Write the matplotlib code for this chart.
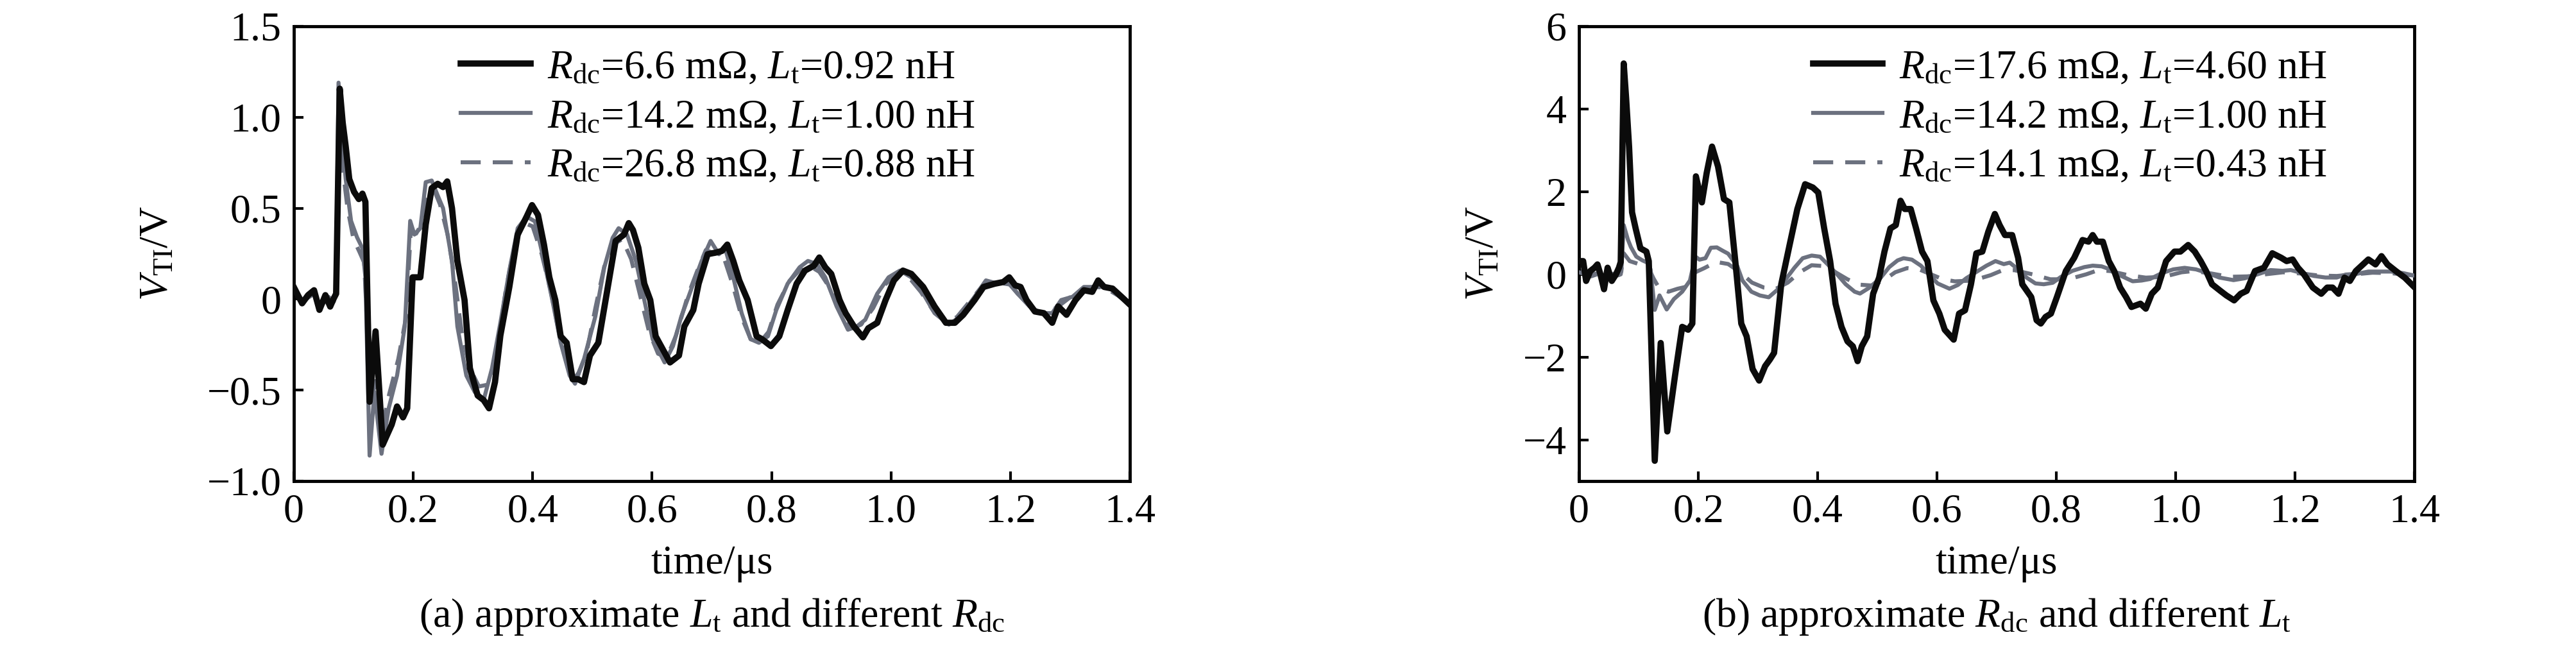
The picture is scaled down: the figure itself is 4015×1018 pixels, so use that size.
import matplotlib
matplotlib.use('Agg')
import matplotlib.pyplot as plt
from matplotlib.ticker import FuncFormatter

plt.rcParams['font.family'] = ['Liberation Serif', 'DejaVu Serif']
plt.rcParams['mathtext.fontset'] = 'custom'
plt.rcParams['mathtext.rm'] = 'Liberation Serif'
plt.rcParams['mathtext.it'] = 'Liberation Serif:italic'
plt.rcParams['font.size'] = 46

# ---- (a) approximate Lt, different Rdc ----
t_a1 = [0.000, 0.014, 0.024, 0.034, 0.043, 0.053, 0.061, 0.067, 0.071, 0.077, 0.082, 0.087,
        0.093, 0.101, 0.109, 0.115, 0.120, 0.127, 0.137, 0.149, 0.164, 0.173, 0.183, 0.190,
        0.199, 0.212, 0.221, 0.231, 0.241, 0.250, 0.257, 0.265, 0.274, 0.286, 0.295, 0.308,
        0.318, 0.327, 0.337, 0.346, 0.361, 0.375, 0.390, 0.399, 0.409, 0.419, 0.428, 0.438,
        0.447, 0.457, 0.467, 0.476, 0.486, 0.496, 0.510, 0.524, 0.539, 0.553, 0.561, 0.568,
        0.577, 0.587, 0.597, 0.606, 0.621, 0.630, 0.645, 0.654, 0.669, 0.678, 0.693, 0.707,
        0.717, 0.726, 0.736, 0.746, 0.760, 0.775, 0.784, 0.799, 0.813, 0.827, 0.842, 0.856,
        0.871, 0.880, 0.890, 0.900, 0.914, 0.924, 0.938, 0.953, 0.962, 0.977, 0.991, 1.005,
        1.020, 1.034, 1.054, 1.073, 1.092, 1.107, 1.121, 1.140, 1.155, 1.174, 1.188, 1.198,
        1.208, 1.217, 1.227, 1.241, 1.256, 1.270, 1.280, 1.294, 1.309, 1.323, 1.337, 1.347,
        1.357, 1.371, 1.386, 1.400]
v_a1 = [0.067, -0.023, 0.022, 0.049, -0.059, 0.022, -0.041, 0.004, 0.030, 1.157, 0.970, 0.840,
        0.660, 0.590, 0.550, 0.580, 0.535, -0.564, -0.177, -0.800, -0.690, -0.590, -0.650, -0.600,
        0.120, 0.120, 0.410, 0.610, 0.634, 0.616, 0.647, 0.500, 0.210, -0.005, -0.380, -0.530,
        -0.555, -0.600, -0.456, -0.200, 0.067, 0.355, 0.454, 0.517, 0.463, 0.300, 0.120, -0.005,
        -0.204, -0.240, -0.440, -0.440, -0.456, -0.310, -0.240, 0.030, 0.320, 0.355, 0.418, 0.380,
        0.283, 0.085, -0.005, -0.204, -0.294, -0.348, -0.310, -0.150, -0.060, 0.085, 0.247, 0.256,
        0.265, 0.300, 0.210, 0.103, -0.005, -0.204, -0.220, -0.258, -0.204, -0.060, 0.085, 0.157,
        0.184, 0.229, 0.175, 0.139, -0.005, -0.077, -0.150, -0.210, -0.160, -0.130, -0.005, 0.103,
        0.157, 0.139, 0.067, -0.040, -0.130, -0.130, -0.086, -0.005, 0.067, 0.085, 0.094, 0.120,
        0.076, 0.067, -0.005, -0.068, -0.077, -0.130, -0.040, -0.086, -0.005, 0.049, 0.040, 0.103,
        0.067, 0.058, 0.013, -0.030]

# Rdc=14.2 mOhm, Lt=1.00 nH (same curve in both panels)
t_ref = [0.000, 0.014, 0.034, 0.043, 0.058, 0.067, 0.071, 0.075, 0.082, 0.087, 0.096, 0.106,
         0.115, 0.120, 0.127, 0.135, 0.147, 0.159, 0.173, 0.186, 0.195, 0.202, 0.212, 0.221,
         0.231, 0.241, 0.250, 0.265, 0.274, 0.289, 0.303, 0.318, 0.332, 0.346, 0.361, 0.375,
         0.390, 0.404, 0.419, 0.433, 0.447, 0.462, 0.471, 0.486, 0.505, 0.520, 0.534, 0.544,
         0.558, 0.573, 0.587, 0.601, 0.621, 0.635, 0.649, 0.669, 0.683, 0.698, 0.712, 0.722,
         0.736, 0.750, 0.765, 0.779, 0.794, 0.808, 0.827, 0.847, 0.861, 0.876, 0.890, 0.909,
         0.928, 0.943, 0.957, 0.977, 0.996, 1.015, 1.034, 1.054, 1.073, 1.097, 1.116, 1.140,
         1.159, 1.179, 1.193, 1.212, 1.232, 1.251, 1.270, 1.285, 1.304, 1.323, 1.342, 1.361,
         1.381, 1.400]
v_ref = [0.050, -0.014, 0.030, -0.050, 0.013, -0.014, 0.067, 1.190, 0.840, 0.660, 0.430, 0.340,
         0.280, 0.120, -0.860, -0.510, -0.850, -0.600, -0.420, -0.150, 0.430, 0.355, 0.390, 0.643,
         0.652, 0.570, 0.500, 0.210, -0.150, -0.420, -0.510, -0.555, -0.380, -0.130, 0.157, 0.390,
         0.454, 0.427, 0.210, -0.005, -0.240, -0.420, -0.465, -0.330, -0.095, 0.175, 0.337, 0.390,
         0.355, 0.210, -0.005, -0.220, -0.348, -0.258, -0.095, 0.085, 0.210, 0.320, 0.247, 0.283,
         0.120, -0.077, -0.220, -0.240, -0.204, -0.060, 0.085, 0.175, 0.210, 0.193, 0.120, -0.040,
         -0.168, -0.150, -0.113, 0.030, 0.120, 0.157, 0.120, 0.030, -0.077, -0.140, -0.095, 0.013,
         0.103, 0.085, 0.103, 0.030, -0.040, -0.077, -0.077, -0.005, 0.013, 0.067, 0.067, 0.067,
         0.030, -0.030]

t_a3 = [0.000, 0.014, 0.034, 0.043, 0.058, 0.067, 0.071, 0.076, 0.082, 0.090, 0.100, 0.110,
        0.118, 0.125, 0.130, 0.137, 0.147, 0.160, 0.175, 0.188, 0.196, 0.205, 0.215, 0.225,
        0.235, 0.245, 0.258, 0.270, 0.282, 0.295, 0.310, 0.325, 0.340, 0.355, 0.370, 0.385,
        0.400, 0.415, 0.430, 0.445, 0.460, 0.475, 0.490, 0.505, 0.520, 0.535, 0.550, 0.565,
        0.580, 0.595, 0.610, 0.625, 0.640, 0.660, 0.675, 0.690, 0.705, 0.720, 0.735, 0.750,
        0.765, 0.780, 0.795, 0.810, 0.830, 0.850, 0.865, 0.880, 0.900, 0.920, 0.935, 0.950,
        0.970, 0.990, 1.010, 1.030, 1.050, 1.070, 1.090, 1.110, 1.130, 1.155, 1.180, 1.200,
        1.220, 1.240, 1.260, 1.280, 1.300, 1.320, 1.340, 1.360, 1.380, 1.400]
v_a3 = [0.040, -0.010, 0.030, -0.040, 0.010, -0.010, 0.050, 0.850, 0.720, 0.500, 0.330, 0.260,
        0.200, -0.300, -0.550, -0.450, -0.720, -0.520, -0.330, -0.100, 0.380, 0.360, 0.420, 0.600,
        0.600, 0.520, 0.350, 0.100, -0.200, -0.380, -0.480, -0.470, -0.300, 0.050, 0.300, 0.420,
        0.400, 0.250, 0.050, -0.200, -0.380, -0.420, -0.300, -0.050, 0.180, 0.300, 0.330, 0.220,
        0.020, -0.180, -0.300, -0.320, -0.200, 0.020, 0.150, 0.270, 0.250, 0.230, 0.080, -0.100,
        -0.220, -0.240, -0.180, -0.030, 0.100, 0.170, 0.180, 0.150, 0.050, -0.100, -0.160, -0.140,
        -0.050, 0.080, 0.140, 0.120, 0.040, -0.060, -0.120, -0.100, -0.020, 0.080, 0.090, 0.080,
        0.000, -0.060, -0.080, -0.040, 0.010, 0.050, 0.070, 0.060, 0.020, -0.030]

# ---- (b) approximate Rdc, different Lt ----
t_b1 = [0.000, 0.007, 0.012, 0.019, 0.026, 0.031, 0.036, 0.042, 0.048, 0.055, 0.062, 0.067,
        0.070, 0.075, 0.079, 0.084, 0.089, 0.095, 0.103, 0.113, 0.117, 0.127, 0.137, 0.148,
        0.161, 0.173, 0.183, 0.190, 0.196, 0.206, 0.214, 0.223, 0.233, 0.243, 0.252, 0.262,
        0.272, 0.281, 0.291, 0.302, 0.312, 0.320, 0.327, 0.339, 0.353, 0.366, 0.379, 0.392,
        0.401, 0.411, 0.421, 0.430, 0.440, 0.450, 0.459, 0.467, 0.474, 0.483, 0.493, 0.503,
        0.512, 0.522, 0.531, 0.539, 0.546, 0.556, 0.565, 0.575, 0.584, 0.594, 0.604, 0.613,
        0.628, 0.637, 0.647, 0.657, 0.666, 0.676, 0.686, 0.697, 0.705, 0.714, 0.726, 0.736,
        0.743, 0.758, 0.767, 0.774, 0.782, 0.791, 0.801, 0.816, 0.830, 0.844, 0.854, 0.861,
        0.868, 0.878, 0.888, 0.897, 0.907, 0.917, 0.926, 0.941, 0.950, 0.960, 0.970, 0.984,
        0.998, 1.008, 1.021, 1.032, 1.042, 1.051, 1.061, 1.075, 1.085, 1.098, 1.109, 1.119,
        1.133, 1.148, 1.162, 1.177, 1.186, 1.196, 1.205, 1.215, 1.230, 1.244, 1.254, 1.263,
        1.273, 1.283, 1.292, 1.302, 1.311, 1.323, 1.335, 1.345, 1.355, 1.369, 1.384, 1.398]
v_b1 = [0.32, 0.32, -0.16, 0.08, 0.16, 0.24, 0.00, -0.36, 0.16, -0.16, 0.00, 0.16,
        0.30, 5.10, 4.27, 3.09, 1.50, 1.11, 0.63, 0.55, 0.32, -4.51, -1.66, -3.80,
        -2.45, -1.27, -1.34, -1.19, 2.37, 1.74, 2.45, 3.09, 2.61, 1.82, 1.74, 0.32,
        -1.19, -1.50, -2.29, -2.57, -2.22, -2.06, -1.90, -0.24, 0.71, 1.58, 2.18, 2.10,
        1.98, 1.11, 0.32, -0.71, -1.27, -1.62, -1.74, -2.10, -1.74, -1.50, -0.47, -0.08,
        0.55, 1.11, 1.19, 1.78, 1.58, 1.58, 1.11, 0.55, 0.32, -0.63, -0.95, -1.34,
        -1.58, -0.95, -0.87, -0.24, 0.51, 0.55, 1.03, 1.46, 1.19, 0.95, 0.95, 0.40,
        -0.24, -0.55, -1.11, -1.19, -1.03, -0.95, -0.55, 0.08, 0.40, 0.83, 0.79, 0.95,
        0.79, 0.79, 0.32, 0.08, -0.32, -0.55, -0.79, -0.71, -0.83, -0.47, -0.32, 0.32,
        0.55, 0.55, 0.71, 0.55, 0.32, 0.08, -0.24, -0.40, -0.51, -0.63, -0.47, -0.40,
        0.08, 0.16, 0.51, 0.40, 0.32, 0.36, 0.16, 0.00, -0.32, -0.47, -0.32, -0.32,
        -0.47, -0.08, -0.16, 0.08, 0.20, 0.36, 0.24, 0.44, 0.24, 0.08, -0.08, -0.28]

t_b3 = [0.000, 0.020, 0.040, 0.060, 0.070, 0.075, 0.085, 0.100, 0.115, 0.125, 0.135, 0.150,
        0.165, 0.180, 0.195, 0.210, 0.230, 0.250, 0.270, 0.290, 0.310, 0.330, 0.350, 0.370,
        0.390, 0.410, 0.430, 0.450, 0.470, 0.490, 0.510, 0.530, 0.550, 0.570, 0.590, 0.610,
        0.630, 0.660, 0.690, 0.710, 0.730, 0.760, 0.790, 0.820, 0.850, 0.870, 0.890, 0.920,
        0.950, 0.980, 1.010, 1.030, 1.060, 1.090, 1.120, 1.150, 1.180, 1.210, 1.240, 1.270,
        1.300, 1.330, 1.360, 1.400]
v_b3 = [0.10, -0.05, 0.05, -0.05, 0.00, 0.51, 0.32, 0.25, 0.20, -0.10, -0.35, -0.42,
        -0.35, -0.30, 0.05, 0.15, 0.30, 0.25, 0.05, -0.20, -0.32, -0.35, -0.20, 0.05,
        0.22, 0.20, 0.05, -0.12, -0.25, -0.27, -0.15, 0.05, 0.15, 0.12, 0.00, -0.12,
        -0.17, -0.15, -0.02, 0.10, 0.10, 0.00, -0.12, -0.12, 0.00, 0.10, 0.08, -0.02,
        -0.08, -0.06, 0.05, 0.08, 0.02, -0.06, -0.05, 0.00, 0.05, 0.02, -0.03, -0.04,
        0.00, 0.04, 0.03, -0.03]

labels_a = [r'$R_{\mathrm{dc}}$=6.6 m$\Omega$, $L_{\mathrm{t}}$=0.92 nH',
            r'$R_{\mathrm{dc}}$=14.2 m$\Omega$, $L_{\mathrm{t}}$=1.00 nH',
            r'$R_{\mathrm{dc}}$=26.8 m$\Omega$, $L_{\mathrm{t}}$=0.88 nH']
labels_b = [r'$R_{\mathrm{dc}}$=17.6 m$\Omega$, $L_{\mathrm{t}}$=4.60 nH',
            r'$R_{\mathrm{dc}}$=14.2 m$\Omega$, $L_{\mathrm{t}}$=1.00 nH',
            r'$R_{\mathrm{dc}}$=14.1 m$\Omega$, $L_{\mathrm{t}}$=0.43 nH']
captions = [r'(a) approximate $L_{\mathrm{t}}$ and different $R_{\mathrm{dc}}$',
            r'(b) approximate $R_{\mathrm{dc}}$ and different $L_{\mathrm{t}}$']

black = '#0b0b0b'
gray = '#6c717f'


def fmt(v, pos):
    if abs(v) < 1e-9:
        return '0'
    return f'{v:.1f}'.replace('-', '\u2212')


def fmt_int(v, pos):
    return f'{int(round(v))}'.replace('-', '\u2212')


fig = plt.figure(figsize=(40.16, 10.18), dpi=100)
ax1 = fig.add_axes([0.1140, 0.2633, 0.3245, 0.6965])
ax2 = fig.add_axes([0.6128, 0.2633, 0.3242, 0.6965])

ax1.plot(t_a3, v_a3, color=gray, lw=4.5, ls=(0, (5, 3)), label=labels_a[2], zorder=2)
ax1.plot(t_ref, v_ref, color=gray, lw=4.5, label=labels_a[1], zorder=3)
ax1.plot(t_a1, v_a1, color=black, lw=7.0, label=labels_a[0], zorder=4)

ax2.plot(t_b3, v_b3, color=gray, lw=4.5, ls=(0, (5, 3)), label=labels_b[2], zorder=2)
ax2.plot(t_ref, v_ref, color=gray, lw=4.5, label=labels_b[1], zorder=3)
ax2.plot(t_b1, v_b1, color=black, lw=7.0, label=labels_b[0], zorder=4)

ax1.set_ylim(-1.0, 1.5)
ax1.set_yticks([-1.0, -0.5, 0, 0.5, 1.0, 1.5])
ax1.yaxis.set_major_formatter(FuncFormatter(fmt))
ax2.set_ylim(-5, 6)
ax2.set_yticks([-4, -2, 0, 2, 4, 6])
ax2.yaxis.set_major_formatter(FuncFormatter(fmt_int))

# (axes, caption, legend x, ylabel x in axes coords)
setup = [(ax1, captions[0], 0.200, -0.140), (ax2, captions[1], 0.280, -0.092)]
for ax, cap, lx, ylx in setup:
    ax.set_xlim(0, 1.4)
    ax.set_xticks([0, 0.2, 0.4, 0.6, 0.8, 1.0, 1.2, 1.4])
    ax.xaxis.set_major_formatter(FuncFormatter(fmt))
    ax.tick_params(direction='in', length=11, width=3, pad=14, top=False, right=False)
    for sp in ax.spines.values():
        sp.set_linewidth(3.5)
    ax.set_ylabel(r'$V_{\mathrm{TI}}$/V')
    ax.yaxis.set_label_coords(ylx, 0.5)
    h, l = ax.get_legend_handles_labels()
    ax.legend(h[::-1], l[::-1], loc='upper left', bbox_to_anchor=(lx, 0.949),
              frameon=False, handlelength=1.7, handletextpad=0.4,
              labelspacing=0.28, borderpad=0, borderaxespad=0)
    pos = ax.get_position()
    xc = pos.x0 + pos.width / 2
    fig.text(xc, 0.122, 'time/\u03bcs', ha='center', va='baseline')
    fig.text(xc, 0.040, cap, ha='center', va='baseline')

fig.savefig('out.png', dpi=100)
